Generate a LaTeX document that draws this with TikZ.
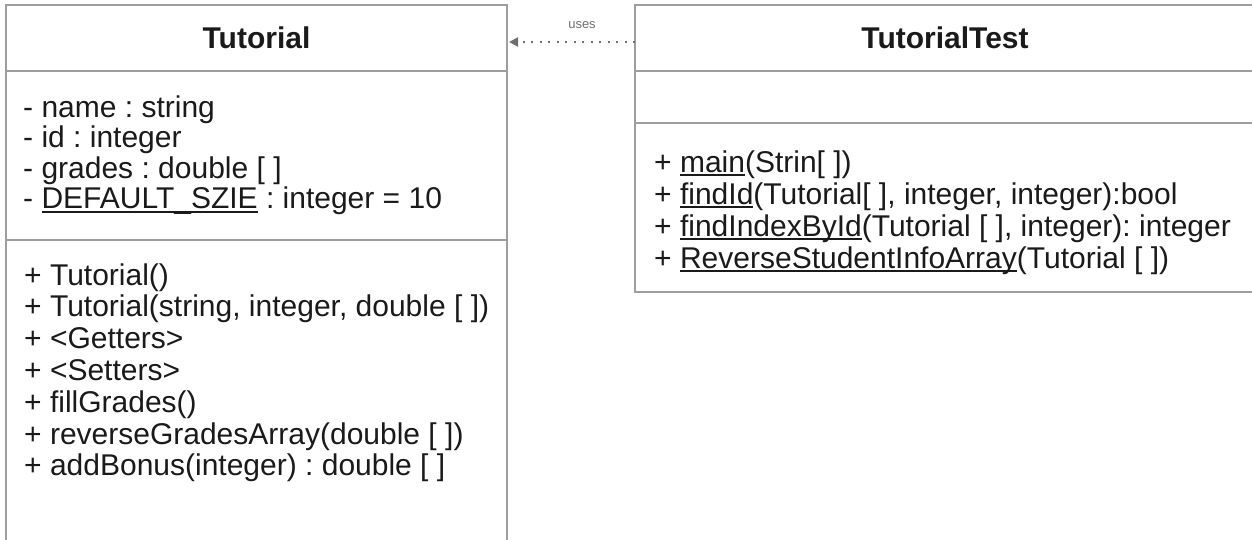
\documentclass[tikz,border=0pt]{standalone}
\usepackage{fontspec}
\setmainfont{Liberation Sans}
\usetikzlibrary{arrows.meta}
\definecolor{bordergray}{HTML}{9E9E9E}
\definecolor{txt}{HTML}{1A1A1A}
\definecolor{dotgray}{HTML}{6E6E6E}
\newcommand{\uln}[1]{\setbox0\hbox{#1}\rlap{\rule[-4pt]{\wd0}{1.6pt}}\box0\relax}
\tikzset{
  umlbox/.style={draw=bordergray, line width=2pt, anchor=north west, inner sep=0pt, outer sep=0pt},
  member/.style={anchor=base west, inner sep=0pt, font=\fontsize{30}{34}\selectfont\frenchspacing, text=txt},
  titletext/.style={font=\fontsize{30}{34}\selectfont\bfseries, text=txt},
  uselink/.style={draw=dotgray, line width=2pt, dash pattern=on 2pt off 6.5pt, -{Triangle[length=9pt,width=9pt]}},
}
\begin{document}
\begin{tikzpicture}[x=1pt,y=-1pt]
\useasboundingbox (0,0) rectangle (1252,539);
\clip (0,0) rectangle (1252,539);
% Tutorial class
\node[umlbox, titletext, minimum width=501pt, minimum height=66pt] (tutHead) at (6,5) {Tutorial};
\node[umlbox, minimum width=501pt, minimum height=169pt] (tutAttr) at (6,71) {};
\node[umlbox, minimum width=501pt, minimum height=330pt] (tutOps) at (6,240) {};
\node[member] (a1) at (23,117) {- name : string};
\node[member] (a2) at (23,147.5) {- id : integer};
\node[member] (a3) at (23,178) {- grades : double [ ]};
\node[member] (a4) at (23,208.5) {- \uln{DEFAULT\_SZIE} : integer = 10};
\node[member] (m1) at (24,285) {+ Tutorial()};
\node[member] (m2) at (24,316.8) {+ Tutorial(string, integer, double [ ])};
\node[member] (m3) at (24,348.6) {+ <Getters>};
\node[member] (m4) at (24,380.4) {+ <Setters>};
\node[member] (m5) at (24,412.2) {+ fillGrades()};
\node[member] (m6) at (24,444) {+ reverseGradesArray(double [ ])};
\node[member] (m7) at (24,475.8) {+ addBonus(integer) : double [ ]};
% TutorialTest class
\node[umlbox, titletext, minimum width=620pt, minimum height=66pt] (ttHead) at (635,5) {TutorialTest};
\node[umlbox, minimum width=620pt, minimum height=52pt] (ttAttr) at (635,71) {};
\node[umlbox, minimum width=620pt, minimum height=169pt] (ttOps) at (635,123) {};
\node[member] (t1) at (654,172) {+ \uln{main}(Strin[ ])};
\node[member] (t2) at (654,204) {+ \uln{findId}(Tutorial[ ], integer, integer):bool};
\node[member] (t3) at (654,236) {+ \uln{findIndexById}(Tutorial [ ], integer): integer};
\node[member] (t4) at (654,268) {+ \uln{ReverseStudentInfoArray}(Tutorial [ ])};
% dependency
\draw[uselink] ([yshift=-4pt]ttHead.west) -- ([yshift=-4pt,xshift=2pt]tutHead.east);
\node[font=\fontsize{13}{15}\selectfont, text=dotgray, inner sep=0pt] (usesLbl) at (582,25) {uses};
\end{tikzpicture}
\end{document}
